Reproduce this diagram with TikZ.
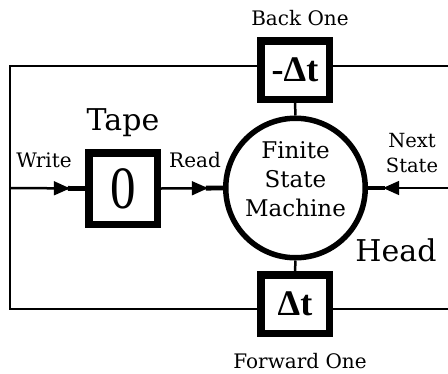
\documentclass[tikz,border=0pt]{standalone}
\usepackage{fontspec}
\usepackage{graphicx}
\setmainfont{DejaVu Serif}
\newfontfamily\symfont{Liberation Serif}
\usetikzlibrary{decorations.markings,calc}
\begin{document}
\begin{tikzpicture}[x=1pt,y=-1pt,
  conn/.style={line width=2.5pt},
  arrowin/.style={conn, postaction={decorate}, decoration={markings,
     mark=at position 0.999 with {\fill (-17pt,-2.4pt) rectangle (0pt,2.4pt);
       \fill (-31pt,-7.2pt) -- (-15pt,0pt) -- (-31pt,7.2pt) -- cycle;}}},
  box/.style={draw, line width=7.5pt, inner sep=0pt, minimum width=68.5pt, minimum height=58.5pt},
  fsmstyle/.style={draw, circle, line width=5.5pt, inner sep=0pt, minimum size=139.5pt},
  lbl/.style={font=\fontsize{20}{25}\selectfont, inner sep=0pt},
  big/.style={font=\fontsize{30}{36}\selectfont, inner sep=0pt, anchor=base},
  delta/.style={font=\symfont\bfseries\fontsize{36}{40}\selectfont}
]
\useasboundingbox[fill=white] (0,0) rectangle (448,373);

\node[box, delta] (back) at (295,70) {-Δt};
\node[box, delta] (fwd) at (295,304) {Δt};
\node[box, minimum height=71.5pt] (tape) at (123,188.5)
   {\scalebox{0.85}[1]{\symfont\fontsize{60}{62}\selectfont 0}};
\node[fsmstyle] (fsm) at (295.5,188) {};

\coordinate (tl) at (10,66);
\coordinate (bl) at (10,309);
\coordinate (wl) at (10,188);
\coordinate (tr) at (448,66);
\coordinate (br) at (448,309);
\coordinate (nr) at (448,188);

\draw[conn, line join=miter] (tl -| back.west) -- (tl) -- (bl) -- (bl -| fwd.west);
\draw[conn] (tr) -- (tr -| back.east);
\draw[conn] (br -| fwd.east) -- (br);
\draw[conn] (back.south) -- (fsm.north);
\draw[conn] (fsm.south) -- (fwd.north);

\draw[arrowin] (wl) -- (tape.west);
\draw[arrowin] (tape.east) -- (fsm.west);
\draw[arrowin] (nr) -- (fsm.east);

\node[lbl, anchor=base] (backlbl) at (300,25) {Back One};
\node[lbl, anchor=base] (fwdlbl) at (300,368) {Forward One};
\node[lbl, anchor=base] (writelbl) at (44,167) {Write};
\node[lbl, anchor=base] (readlbl) at (195,167) {Read};
\node[lbl, anchor=north, align=center, font=\fontsize{19.5}{25}\selectfont] (nextlbl) at (412,133) {Next\\State};
\node[big] (tapelbl) at (123,130) {Tape};
\node[big] (headlbl) at (396,261) {Head};
\node[anchor=north, align=center, inner sep=0pt, font=\fontsize{23}{29}\selectfont] (fsmlbl) at (295.5,141) {Finite\\State\\Machine};
\end{tikzpicture}
\end{document}
